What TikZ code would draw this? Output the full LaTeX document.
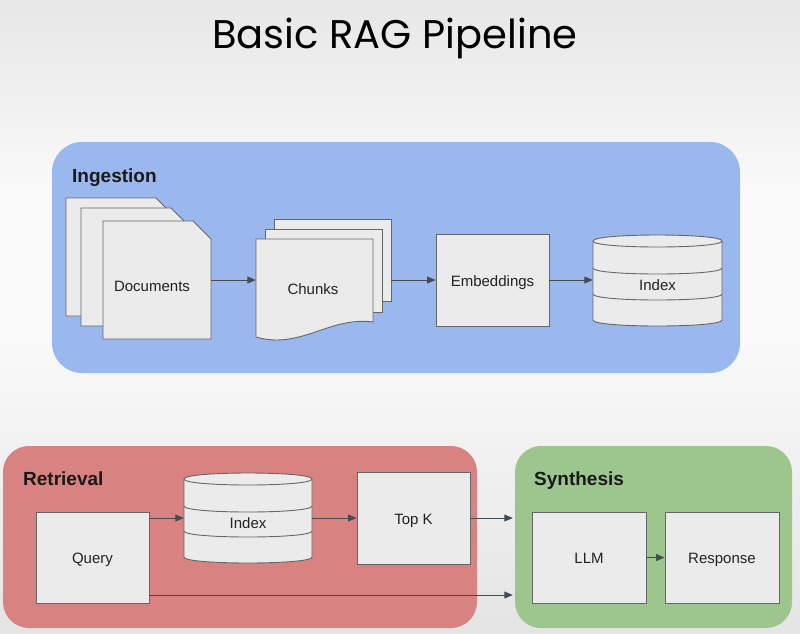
\documentclass[tikz,border=0pt]{standalone}
\usepackage{fontspec}
\setmainfont{Liberation Sans}
\newfontfamily\titlefont{Poppins}
\usetikzlibrary{arrows.meta,calc}
\definecolor{bgA}{HTML}{E7E7E7}
\definecolor{bgB}{HTML}{FAFAFA}
\definecolor{bgC}{HTML}{E4E4E4}
\definecolor{ingcol}{HTML}{9AB8EE}
\definecolor{retcol}{HTML}{D88282}
\definecolor{syncol}{HTML}{9DC68E}
\definecolor{boxfill}{HTML}{EBEBEB}
\definecolor{boxline}{HTML}{666666}
\definecolor{arrcol}{HTML}{454B52}
\definecolor{txtcol}{HTML}{222222}
\tikzset{
  grp/.style={rounded corners=30pt, draw=none},
  boxnode/.style={draw=boxline, fill=boxfill, line width=0.9pt, inner sep=0pt, text height=13pt, text depth=1pt, font=\fontsize{15}{18}\selectfont, text=txtcol},
  shapefill/.style={draw=boxline, fill=boxfill, line width=0.9pt, line join=miter},
  ghost/.style={draw=none, fill=none, inner sep=0pt},
  txt/.style={inner sep=0pt, text height=13pt, text depth=1pt, font=\fontsize{15}{18}\selectfont, text=txtcol},
  grplabel/.style={inner sep=0pt, anchor=west, text height=15pt, text depth=1pt, font=\fontsize{19}{22}\selectfont\bfseries, text=black!90},
  arr/.style={draw=arrcol, line width=0.9pt, -{Triangle[length=8.5pt,width=7pt]}},
}
\begin{document}
\begin{tikzpicture}[x=1pt,y=-1pt]
\useasboundingbox (0,0) rectangle (800,633);
% background
\shade[top color=bgA, bottom color=bgB, draw=none] (0,0) rectangle (800,200);
\fill[bgB] (0,199) rectangle (800,330);
\shade[top color=bgB, bottom color=bgC, draw=none] (0,329) rectangle (800,633);

% title
\node[inner sep=0pt, anchor=base, font=\titlefont\fontsize{40}{46}\selectfont, text=black] (title) at (395,48) {Basic RAG Pipeline};

% groups
\node[grp, fill=ingcol, minimum width=688pt, minimum height=231pt, inner sep=0pt] (ing) at (396,257.5) {};
\node[grp, fill=retcol, rounded corners=26pt, minimum width=474pt, minimum height=182pt, inner sep=0pt] (ret) at (240,537) {};
\node[grp, fill=syncol, rounded corners=26pt, minimum width=277pt, minimum height=182pt, inner sep=0pt] (syn) at (653.5,537) {};
\node[grplabel] (ingl) at (72,175) {Ingestion};
\node[grplabel] (retl) at (23,478) {Retrieval};
\node[grplabel] (synl) at (534,478) {Synthesis};

% documents (stack of pages with folded corner)
\draw[shapefill] (66,198) -- (156,198) -- (174,216) -- (174,316) -- (66,316) -- cycle;
\draw[shapefill] (81,208) -- (171,208) -- (189,226) -- (189,326) -- (81,326) -- cycle;
\draw[shapefill] (103,221) -- (193,221) -- (211,239) -- (211,339) -- (103,339) -- cycle;
\node[ghost, minimum width=108pt, minimum height=118pt] (docs) at (157,280) {};
\node[txt] (docst) at (152,285) {Documents};

% chunks (stack of document pages)
\draw[shapefill] (274,219) rectangle (391,301);
\node[ghost, minimum width=117pt, minimum height=82pt] (chunkb) at (332.5,260) {};
\draw[shapefill] (265,229) rectangle (382,312);
\draw[shapefill] (256,239) -- (373,239) -- (373,322) .. controls (330,316) and (300,350) .. (256,337) -- cycle;
\node[ghost, minimum width=117pt, minimum height=98pt] (chunks) at (314.5,288) {};
\node[txt] (chunkst) at (313,288) {Chunks};

% embeddings
\node[boxnode, minimum width=113pt, minimum height=92pt] (emb) at (492.5,280) {Embeddings};

% index (ingestion)
\draw[shapefill] (593,241) -- (593,320) .. controls (593,328) and (722,328) .. (722,320) -- (722,241) .. controls (722,233) and (593,233) .. (593,241) -- cycle;
\draw[shapefill, fill=none] (593,241) .. controls (593,249) and (722,249) .. (722,241);
\draw[shapefill, fill=none] (593,268) .. controls (593,276) and (722,276) .. (722,268);
\draw[shapefill, fill=none] (593,294) .. controls (593,302) and (722,302) .. (722,294);
\node[ghost, minimum width=129pt, minimum height=91pt] (idx) at (657.5,280.5) {};
\node[txt] (idxt) at (657.5,284) {Index};

% retrieval
\node[boxnode, minimum width=113pt, minimum height=91pt] (query) at (92.5,557.5) {Query};
\draw[shapefill] (184,479) -- (184,557) .. controls (184,565) and (312,565) .. (312,557) -- (312,479) .. controls (312,471) and (184,471) .. (184,479) -- cycle;
\draw[shapefill, fill=none] (184,479) .. controls (184,487) and (312,487) .. (312,479);
\draw[shapefill, fill=none] (184,506) .. controls (184,514) and (312,514) .. (312,506);
\draw[shapefill, fill=none] (184,531) .. controls (184,539) and (312,539) .. (312,531);
\node[ghost, minimum width=128pt, minimum height=90pt] (idx2) at (248,518) {};
\node[txt] (idx2t) at (248,522) {Index};
\node[boxnode, minimum width=113pt, minimum height=92pt] (topk) at (413.5,518) {Top K};

% synthesis
\node[boxnode, minimum width=114pt, minimum height=91pt] (llm) at (589,557.5) {LLM};
\node[boxnode, minimum width=114pt, minimum height=91pt] (resp) at (722,557.5) {Response};

% connectors
\draw[arr] (docs.east) -- (docs.east -| chunks.west);
\draw[arr] (emb.west -| chunkb.east) -- (emb.west);
\draw[arr] (emb.east) -- (idx.west |- emb.east);
\draw[arr] (idx2.west -| query.east) -- (idx2.west);
\draw[arr] (idx2.east) -- (topk.west);
\draw[arr] (topk.east) -- ([xshift=-2pt]topk.east -| syn.west);
\coordinate (qlow) at ([yshift=-37.5pt]query.east);
\draw[arr] (qlow) -- ([xshift=-2pt]qlow -| syn.west);
\draw[arr] (llm.east) -- (resp.west);
\end{tikzpicture}
\end{document}
